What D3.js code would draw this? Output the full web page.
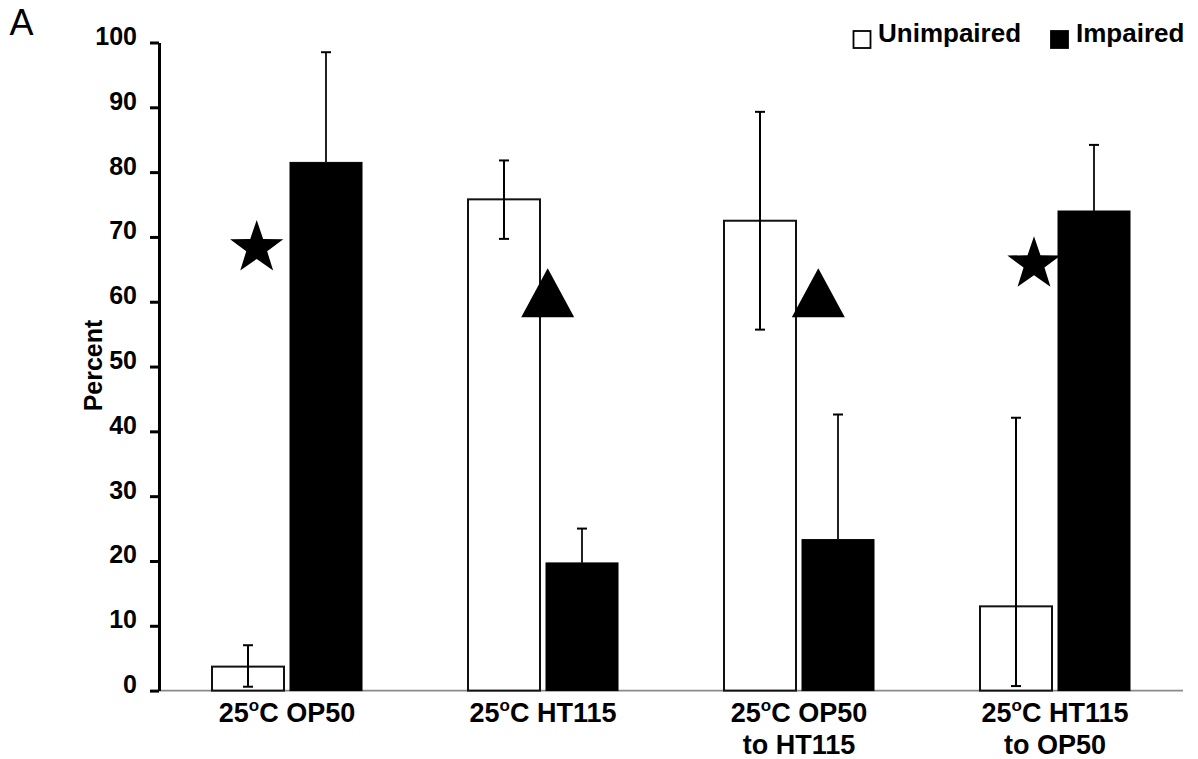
<!DOCTYPE html>
<html>
<head>
<meta charset="utf-8">
<script src="https://cdn.jsdelivr.net/npm/d3@7/dist/d3.min.js"></script>
<style>
  html, body { margin: 0; padding: 0; background: #fff; }
  svg { display: block; font-family: "Liberation Sans", Arial, Helvetica, sans-serif; }
</style>
</head>
<body>
<svg id="chart" width="1198" height="759"></svg>
<script>
// Conditions (two-line labels) and the two outcome series, in percent
const categories = ["OP50", "HT115", "OP50 to HT115", "HT115 to OP50"];
const labelLine1 = ["OP50", "HT115", "OP50", "HT115"];
const labelLine2 = ["", "", "to HT115", "to OP50"];
const seriesNames = ["Unimpaired", "Impaired"];

const unimpaired = [3.7, 75.8, 72.5, 13.0];
const unimpairedLow = [0.6, 69.7, 55.7, 0.7];
const unimpairedHigh = [7.0, 81.8, 89.3, 42.1];

const impaired = [81.5, 19.7, 23.3, 74.0];
const impairedHigh = [98.5, 25.0, 42.6, 84.2];

// Significance markers: shape and the level (percent) at which each sits
const markerShapes = ["star", "triangle", "triangle", "star"];
const markerLevels = [68.3, 61.4, 61.4, 65.8];

const yTicks = [0, 10, 20, 30, 40, 50, 60, 70, 80, 90, 100];

// ---- layout ----
const svg = d3.select("#chart");
const plotLeft = 159, plotRight = 1183, plotTop = 42.5, plotBottom = 690.6;
const markerDx = [-30.3, 4.7, 19.3, -21];

const x0 = d3.scaleBand().domain(categories).range([plotLeft, plotRight]).paddingInner(0).paddingOuter(0);
const x1 = d3.scaleBand().domain(seriesNames).range([-75, 75]).paddingInner(0.077);
const y = d3.scaleLinear().domain([0, 100]).range([plotBottom, plotTop]);

const rows = categories.map((c, i) => ({
  cat: c,
  bars: [
    { key: "Unimpaired", value: unimpaired[i], lo: unimpairedLow[i], hi: unimpairedHigh[i] },
    { key: "Impaired", value: impaired[i], lo: impaired[i], hi: impairedHigh[i] }
  ]
}));

const center = c => x0(c) + x0.bandwidth() / 2;

// x baseline
svg.append("line")
  .attr("x1", plotLeft).attr("x2", plotRight)
  .attr("y1", plotBottom).attr("y2", plotBottom)
  .attr("stroke", "#8a8a8a").attr("stroke-width", 1.6);

// bars
const groups = svg.selectAll("g.group").data(rows).join("g")
  .attr("class", "group")
  .attr("transform", d => `translate(${center(d.cat)},0)`);

groups.selectAll("rect").data(d => d.bars).join("rect")
  .attr("x", d => x1(d.key))
  .attr("width", x1.bandwidth())
  .attr("y", d => y(d.value))
  .attr("height", d => y(0) - y(d.value))
  .attr("fill", d => d.key === "Impaired" ? "#000" : "#fff")
  .attr("stroke", d => d.key === "Impaired" ? "#000" : "#111")
  .attr("stroke-width", d => d.key === "Impaired" ? 1 : 2);

// error bars
const capW = 10;
groups.selectAll("g.err").data(d => d.bars).join("g")
  .attr("class", "err")
  .each(function(d) {
    const g = d3.select(this);
    const cx = x1(d.key) + x1.bandwidth() / 2;
    g.append("line").attr("x1", cx).attr("x2", cx)
      .attr("y1", y(d.hi)).attr("y2", y(d.lo))
      .attr("stroke", d.key === "Impaired" ? "#222" : "#000").attr("stroke-width", 2);
    g.append("line").attr("x1", cx - capW / 2).attr("x2", cx + capW / 2)
      .attr("y1", y(d.hi)).attr("y2", y(d.hi))
      .attr("stroke", "#000").attr("stroke-width", 2);
    if (d.lo < d.value) {
      g.append("line").attr("x1", cx - capW / 2).attr("x2", cx + capW / 2)
        .attr("y1", y(d.lo)).attr("y2", y(d.lo))
        .attr("stroke", "#000").attr("stroke-width", 2);
    }
  });

// y axis
const yAxis = d3.axisLeft(y).tickValues(yTicks).tickSize(9).tickPadding(13).tickSizeOuter(0);
const ag = svg.append("g").attr("transform", `translate(${plotLeft},0)`).call(yAxis);
ag.select(".domain").attr("stroke", "#000").attr("stroke-width", 3);
ag.selectAll(".tick line").attr("stroke", "#000").attr("stroke-width", 3);
ag.selectAll(".tick text")
  .attr("font-family", "'Liberation Sans', Arial, sans-serif")
  .attr("font-size", 25).attr("font-weight", "bold").attr("fill", "#000")
  .attr("dy", "0.08em");

svg.append("text")
  .attr("transform", `translate(101.5,365.5) rotate(-90)`)
  .attr("text-anchor", "middle")
  .attr("font-size", 25).attr("font-weight", "bold")
  .text("Percent");

// category labels
const catLabels = svg.selectAll("g.cat").data(categories).join("g")
  .attr("class", "cat")
  .attr("transform", c => `translate(${center(c)},0)`);

catLabels.each(function(c, i) {
  const t = d3.select(this).append("text")
    .attr("y", 722).attr("text-anchor", "middle")
    .attr("font-size", 27).attr("font-weight", "bold");
  t.append("tspan").text("25");
  t.append("tspan").attr("font-size", 17).attr("dy", -11).text("o");
  t.append("tspan").attr("dy", 11).text("C " + labelLine1[i]);
  if (labelLine2[i]) {
    d3.select(this).append("text")
      .attr("y", 754).attr("text-anchor", "middle")
      .attr("font-size", 27).attr("font-weight", "bold")
      .text(labelLine2[i]);
  }
});

// significance markers
function starPath(cx, cy, R, r) {
  const pts = [];
  for (let k = 0; k < 10; k++) {
    const a = -Math.PI / 2 + k * Math.PI / 5;
    const rad = k % 2 === 0 ? R : r;
    pts.push([cx + rad * Math.cos(a), cy + rad * Math.sin(a)]);
  }
  return "M" + pts.map(p => p.join(",")).join("L") + "Z";
}
function trianglePath(cx, cy, w, h) {
  return `M${cx},${cy - h / 2}L${cx + w / 2},${cy + h / 2}L${cx - w / 2},${cy + h / 2}Z`;
}
svg.selectAll("path.marker").data(categories).join("path")
  .attr("class", "marker")
  .attr("fill", "#000")
  .attr("d", (c, i) => {
    const cx = center(c) + markerDx[i];
    const cy = y(markerLevels[i]);
    return markerShapes[i] === "star" ? starPath(cx, cy, 28, 11) : trianglePath(cx, cy, 53, 49);
  });

// legend
const legend = [
  { name: "Unimpaired", fill: "#fff", bx: 853.5, tx: 878 },
  { name: "Impaired", fill: "#000", bx: 1051, tx: 1076 }
];
const lg = svg.selectAll("g.legend").data(legend).join("g").attr("class", "legend");
lg.append("rect")
  .attr("x", d => d.bx).attr("y", 31)
  .attr("width", 17).attr("height", 17)
  .attr("fill", d => d.fill).attr("stroke", "#000").attr("stroke-width", 1.8);
lg.append("text")
  .attr("x", d => d.tx).attr("y", 41.5)
  .attr("font-size", 26).attr("font-weight", "bold")
  .text(d => d.name);

// panel letter
svg.append("text")
  .attr("x", 9.5).attr("y", 35)
  .attr("font-size", 36)
  .text("A");
</script>
</body>
</html>
